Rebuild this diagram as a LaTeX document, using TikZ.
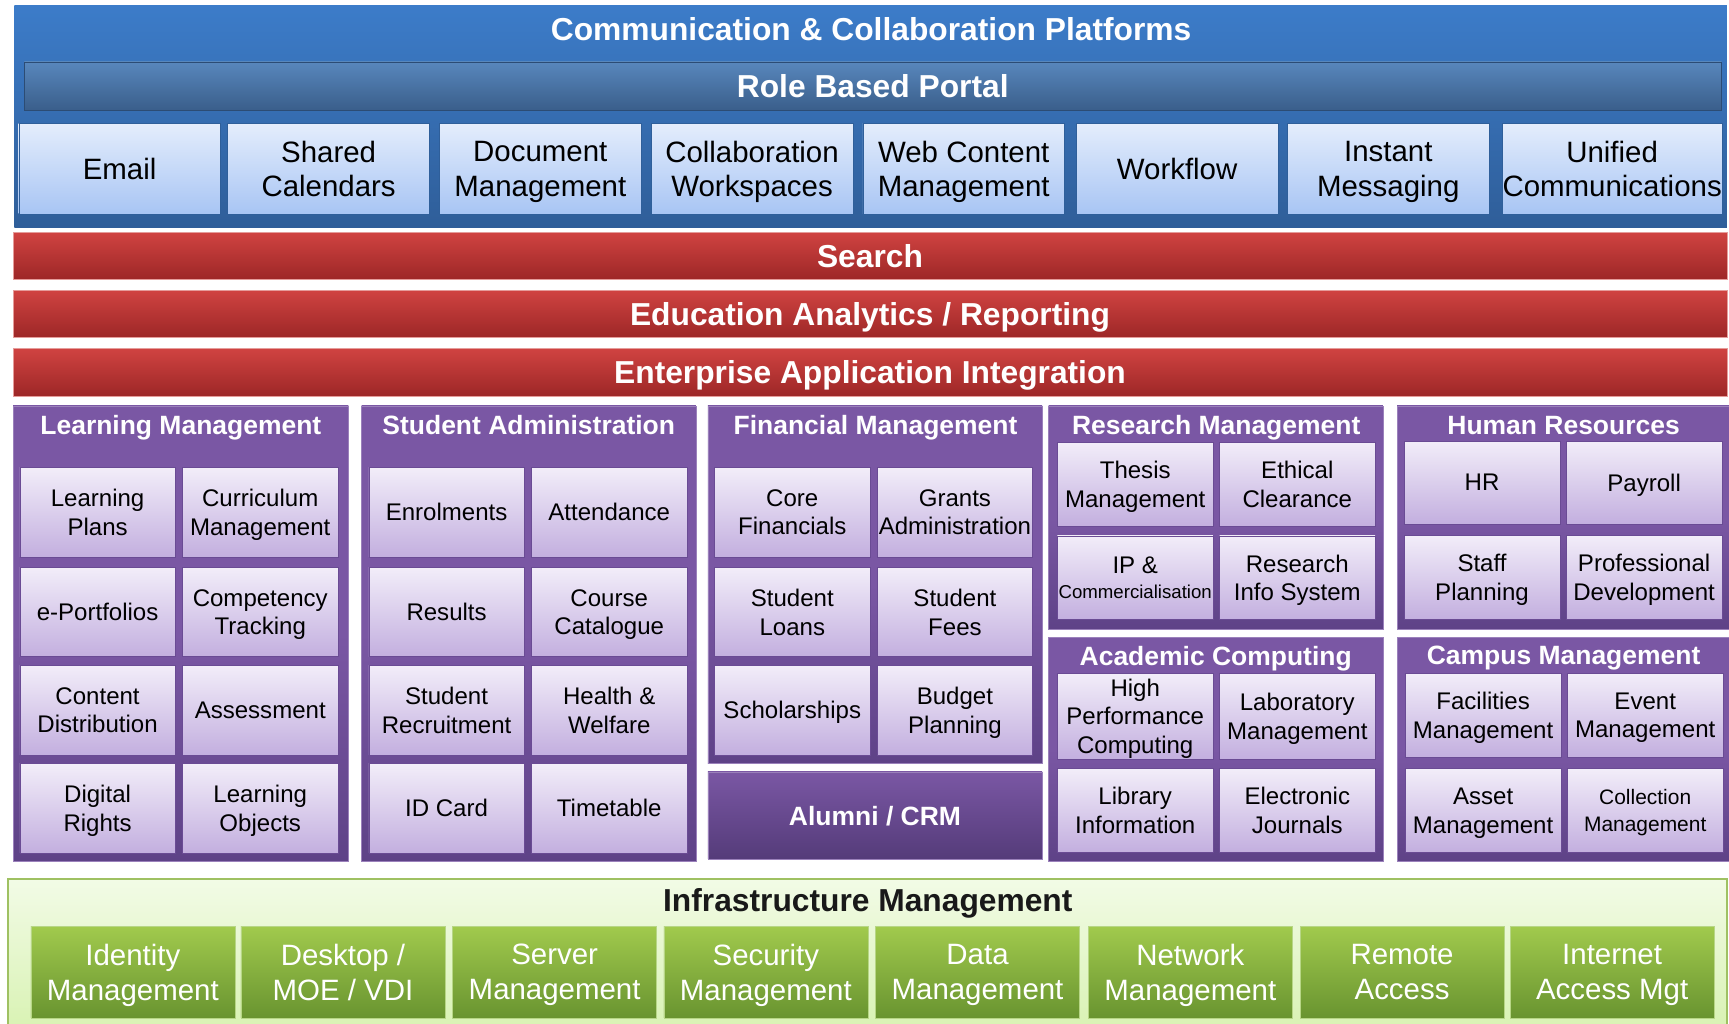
\documentclass[tikz,border=0pt]{standalone}
\usepackage{fontspec}
\setmainfont{Liberation Sans}

\definecolor{platblue}{HTML}{3C7CC9}
\definecolor{platbluedark}{HTML}{2F5E99}
\definecolor{portaltop}{HTML}{5887BC}
\definecolor{portalbot}{HTML}{3A5E8B}
\definecolor{portaledge}{HTML}{2C4C74}
\definecolor{tiletop}{HTML}{E4EDFC}
\definecolor{tilebot}{HTML}{A8C5F4}
\definecolor{tileedge}{HTML}{2F5F9A}
\definecolor{bartop}{HTML}{D04341}
\definecolor{barbot}{HTML}{9D2727}
\definecolor{barline}{HTML}{E59C9A}
\definecolor{grape}{HTML}{7A57A4}
\definecolor{grapedark}{HTML}{5E4287}
\definecolor{lilactop}{HTML}{F2EDF9}
\definecolor{lilacbot}{HTML}{C3AFDF}
\definecolor{lilacedge}{HTML}{6A4B94}
\definecolor{leaftop}{HTML}{F2FBE6}
\definecolor{leafbot}{HTML}{D8F2B2}
\definecolor{leafline}{HTML}{9FC162}
\definecolor{mosstop}{HTML}{A1CA4D}
\definecolor{mossbot}{HTML}{699430}
\definecolor{mossedge}{HTML}{B7D686}

\newcommand{\hdfont}{\fontsize{28.8}{33}\selectfont\bfseries}
\newcommand{\grpfont}{\fontsize{24}{28}\selectfont\bfseries}
\newcommand{\bigtile}{\fontsize{26.7}{31.5}\selectfont}
\newcommand{\celltext}{\fontsize{21.8}{26}\selectfont}
\newcommand{\minicell}{\fontsize{16.9}{20}\selectfont}
\newcommand{\collfont}{\fontsize{19}{24}\selectfont}

\tikzset{
  frame/.style={inner sep=0pt, outer sep=0pt, rectangle},
  evened/.style={execute at begin node=\vphantom{Ag}, execute at end node=\vphantom{Ag}},
  toptile/.style={frame, evened, text depth=-2.5pt, draw=tileedge, top color=tiletop, bottom color=tilebot,
    minimum width=183pt, minimum height=82pt, align=center, font=\bigtile},
  redbar/.style={frame, evened, text depth=-3pt, draw=barline, top color=bartop, bottom color=barbot,
    minimum width=1554pt, minimum height=43pt, text=white, font=\hdfont},
  group/.style={frame, draw=grape!75!white, top color=grape, bottom color=grapedark,
    middle color=grape, minimum width=303pt},
  grouptitle/.style={evened, text=white, font=\grpfont, inner sep=0pt},
  cell/.style={frame, evened, text depth=-1pt, draw=lilacedge, top color=lilactop, bottom color=lilacbot,
    minimum width=141pt, minimum height=81pt, align=center, font=\celltext},
  infratile/.style={frame, evened, text depth=-2.5pt, draw=mossedge, top color=mosstop, bottom color=mossbot,
    minimum width=185pt, minimum height=83pt, align=center, text=white, font=\bigtile}
}

\begin{document}
\begin{tikzpicture}[x=1pt,y=-1pt]
\useasboundingbox (0,0) rectangle (1568,928);

\node[frame, top color=platblue, middle color=platblue!95!black, bottom color=platbluedark,
  minimum width=1553pt, minimum height=201pt] (ccp) at (789.5,105.5) {};
\node[evened, text=white, font=\hdfont, inner sep=0pt] (ccpT) at (790,29) {Communication \& Collaboration Platforms};
\node[frame, evened, text depth=-2pt, draw=portaledge, top color=portaltop, bottom color=portalbot,
  minimum width=1539pt, minimum height=44pt, text=white, font=\hdfont] (rbp) at (791.5,78) {Role Based Portal};

\node[toptile] (email) at (108.5,153) {Email};
\node[toptile] (cal) at (298,153) {Shared\\Calendars};
\node[toptile] (docm) at (490,153) {Document\\Management};
\node[toptile] (collab) at (682,153) {Collaboration\\Workspaces};
\node[toptile] (wcm) at (874,153) {Web Content\\Management};
\node[toptile] (wflow) at (1067.5,153) {Workflow};
\node[toptile] (im) at (1259,153) {Instant\\Messaging};
\node[toptile, minimum width=199pt] (uc) at (1462,153) {Unified\\Communications};

\node[redbar] (search) at (789,232) {Search};
\node[redbar] (eduan) at (789,284.5) {Education Analytics / Reporting};
\node[redbar] (eai) at (789,337.5) {Enterprise Application Integration};

\node[group, minimum width=304pt, minimum height=413pt] (lm) at (164,574.5) {};
\node[grouptitle] (lmT) at (164,388) {Learning Management};
\node[cell] (lplan) at (88.5,464.5) {Learning\\Plans};
\node[cell] (curr) at (236,464.5) {Curriculum\\Management};
\node[cell] (eport) at (88.5,555) {e-Portfolios};
\node[cell] (comp) at (236,555) {Competency\\Tracking};
\node[cell] (cdist) at (88.5,644) {Content\\Distribution};
\node[cell] (assess) at (236,644) {Assessment};
\node[cell] (drights) at (88.5,733) {Digital\\Rights};
\node[cell] (lobj) at (236,733) {Learning\\Objects};

\node[group, minimum height=413pt] (sa) at (479.5,574.5) {};
\node[grouptitle] (saT) at (479.5,388) {Student Administration};
\node[cell] (enrol) at (405,464.5) {Enrolments};
\node[cell] (attend) at (552.5,464.5) {Attendance};
\node[cell] (results) at (405,555) {Results};
\node[cell] (ccat) at (552.5,555) {Course\\Catalogue};
\node[cell] (recruit) at (405,644) {Student\\Recruitment};
\node[cell] (health) at (552.5,644) {Health \&\\Welfare};
\node[cell] (idcard) at (405,733) {ID Card};
\node[cell] (ttable) at (552.5,733) {Timetable};

\node[group, minimum height=324pt] (fm) at (793.5,530) {};
\node[grouptitle] (fmT) at (794,388) {Financial Management};
\node[cell] (corefin) at (718.5,464.5) {Core\\Financials};
\node[cell] (grants) at (866,464.5) {Grants\\Administration};
\node[cell] (sloans) at (718.5,555) {Student\\Loans};
\node[cell] (sfees) at (866,555) {Student\\Fees};
\node[cell] (schol) at (718.5,644) {Scholarships};
\node[cell] (budget) at (866,644) {Budget\\Planning};

\node[group, evened, text depth=-3pt, top color=grape, middle color=grape!90!black, bottom color=grapedark!90!black,
  minimum height=79pt, text=white, font=\grpfont] (alumni) at (793.5,739.5) {Alumni / CRM};

\node[group, minimum height=203pt] (rm) at (1102.5,469.5) {};
\node[grouptitle] (rmT) at (1103,388) {Research Management};
\node[cell, minimum height=76pt] (thesis) at (1029.5,439) {Thesis\\Management};
\node[cell, minimum height=76pt] (ethic) at (1176.5,439) {Ethical\\Clearance};
\node[cell, minimum height=76pt] (ipc) at (1029.5,524) {IP \&\\[-3pt]{\minicell Commercialisation}};
\node[cell, minimum height=76pt] (ris) at (1176.5,524) {Research\\Info System};

\node[group, minimum height=203pt] (ac) at (1102.5,679.5) {};
\node[grouptitle] (acT) at (1102.5,597) {Academic Computing};
\node[cell, minimum height=78pt] (hpc) at (1029.5,649.5) {High\\Performance\\Computing};
\node[cell, minimum height=78pt] (labm) at (1176.5,649.5) {Laboratory\\Management};
\node[cell, minimum height=76pt] (libinfo) at (1029.5,735) {Library\\Information};
\node[cell, minimum height=76pt] (ejour) at (1176.5,735) {Electronic\\Journals};

\node[group, minimum height=203pt] (hr) at (1418.5,469.5) {};
\node[grouptitle] (hrT) at (1418,388) {Human Resources};
\node[cell, minimum height=75pt] (hrcell) at (1344,437.5) {HR};
\node[cell, minimum height=75pt] (payroll) at (1491,437.5) {Payroll};
\node[cell, minimum height=76pt] (staff) at (1344,523.5) {Staff\\Planning};
\node[cell, minimum height=76pt] (profdev) at (1491,523.5) {Professional\\Development};

\node[group, minimum height=203pt] (cm) at (1418.5,679.5) {};
\node[grouptitle] (cmT) at (1418,597) {Campus Management};
\node[cell, minimum height=76pt] (facil) at (1345,648.5) {Facilities\\Management};
\node[cell, minimum height=76pt] (event) at (1492,648.5) {Event\\Management};
\node[cell, minimum height=76pt] (asset) at (1345,735) {Asset\\Management};
\node[cell, minimum height=76pt, font=\collfont] (collect) at (1492,735) {Collection\\Management};

\node[frame, draw=leafline, line width=1.5pt, top color=leaftop, bottom color=leafbot,
  minimum width=1559pt, minimum height=140pt] (infra) at (786.5,867) {};
\node[evened, font=\hdfont, text=black!90, inner sep=0pt] (infraT) at (787,819) {Infrastructure Management};
\node[infratile] (idm) at (120.5,881.5) {Identity\\Management};
\node[infratile] (desk) at (311,881.5) {Desktop /\\MOE / VDI};
\node[infratile] (server) at (503,881.5) {Server\\Management};
\node[infratile] (secm) at (694.5,881.5) {Security\\Management};
\node[infratile] (datam) at (886.5,881.5) {Data\\Management};
\node[infratile] (netm) at (1079.5,881.5) {Network\\Management};
\node[infratile] (remote) at (1271.5,881.5) {Remote\\Access};
\node[infratile] (inet) at (1462,881.5) {Internet\\Access Mgt};
\end{tikzpicture}
\end{document}
